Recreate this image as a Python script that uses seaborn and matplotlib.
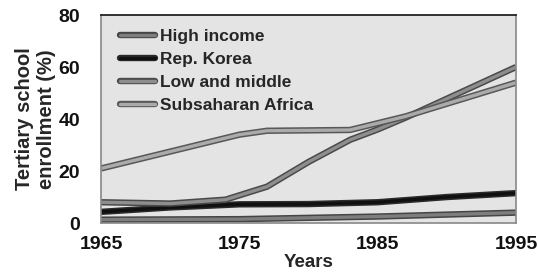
import matplotlib
matplotlib.use("Agg")
import matplotlib.pyplot as plt
import matplotlib.patheffects as pe
from matplotlib.lines import Line2D
import pandas as pd
import seaborn as sns

# series
years_a = [1965, 1970, 1975, 1977, 1983, 1987, 1995]
subsaharan = [21, 27.5, 34, 35.5, 35.8, 41, 54]
years_b = [1965, 1970, 1974, 1977, 1980, 1983, 1985, 1987, 1995]
low_middle = [8, 7.5, 9, 14, 23.5, 32, 36, 40.5, 60]
years_k = [1965, 1970, 1975, 1980, 1985, 1990, 1995]
korea = [4.3, 6, 7.2, 7.3, 8, 10, 11.5]
years_h = [1965, 1975, 1985, 1995]
high_income = [1.3, 1.5, 2.5, 4]

series = ["High income", "Rep. Korea", "Low and middle", "Subsaharan Africa"]
x_ticks = [1965, 1975, 1985, 1995]
y_ticks = [0, 20, 40, 60, 80]

frames = [
    pd.DataFrame({"year": years_h, "value": high_income, "series": series[0]}),
    pd.DataFrame({"year": years_k, "value": korea, "series": series[1]}),
    pd.DataFrame({"year": years_b, "value": low_middle, "series": series[2]}),
    pd.DataFrame({"year": years_a, "value": subsaharan, "series": series[3]}),
]
df = pd.concat(frames, ignore_index=True)

core = {"High income": "#7e7e7e", "Rep. Korea": "#101010",
        "Low and middle": "#8e8e8e", "Subsaharan Africa": "#ababab"}
edge = {"High income": "#454545", "Rep. Korea": "#2a2a2a",
        "Low and middle": "#4a4a4a", "Subsaharan Africa": "#585858"}

sns.set_style("white")
plt.rcParams["font.family"] = ["Liberation Sans", "DejaVu Sans"]
plt.rcParams["font.weight"] = "bold"

fig, ax = plt.subplots(figsize=(5.38, 2.74), dpi=100)
fig.subplots_adjust(left=0.188, right=0.959, bottom=0.186, top=0.945)

sns.lineplot(data=df, x="year", y="value", hue="series", hue_order=series,
             palette=core, ax=ax, linewidth=2.4, legend=False, estimator=None)

for line, name in zip(ax.get_lines(), series):
    line.set_path_effects([pe.Stroke(linewidth=4.6, foreground=edge[name]), pe.Normal()])
    line.set_solid_capstyle("butt")

ax.set_facecolor("#e4e4e4")
ax.set_xlim(1965, 1995)
ax.set_ylim(0, 80)
ax.set_xticks(x_ticks)
ax.set_yticks(y_ticks)
ax.tick_params(axis="both", labelsize=14, colors="#111111", length=7, width=1.2)
ax.tick_params(axis="y", length=13, color="#777777", pad=2)
ax.tick_params(axis="x", color="#777777", pad=2)
for lab in ax.get_xticklabels() + ax.get_yticklabels():
    lab.set_fontweight("bold")

for side in ["left", "right", "bottom"]:
    ax.spines[side].set_color("#888888")
    ax.spines[side].set_linewidth(1.2)
ax.spines["top"].set_color("#111111")
ax.spines["top"].set_linewidth(1.2)

ax.set_xlabel("Years", fontsize=13.5, fontweight="bold", labelpad=1)
ax.set_ylabel("Tertiary school\nenrollment (%)", fontsize=14.5, fontweight="bold",
              labelpad=2, linespacing=1.2)

handles = []
for name in series:
    h = Line2D([0], [0], color=core[name], linewidth=2.4, solid_capstyle="round",
               path_effects=[pe.Stroke(linewidth=4.6, foreground=edge[name]), pe.Normal()])
    handles.append(h)
ax.legend(handles, series, loc="upper left", frameon=False,
          prop={"weight": "bold", "size": 12.5}, handlelength=2.0, handletextpad=0.3,
          labelspacing=0.45, borderaxespad=0.2, bbox_to_anchor=(0.02, 0.985))

fig.savefig("out.png", dpi=100)
